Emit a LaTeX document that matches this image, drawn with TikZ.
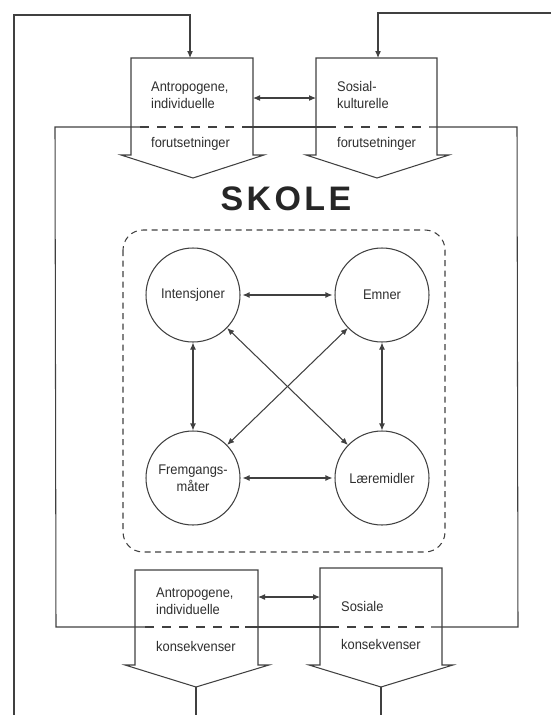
\documentclass[tikz,border=0pt]{standalone}
\usepackage{fontspec}
\setmainfont{Liberation Sans}[FakeStretch=0.92]
\newfontfamily\skolefont{Liberation Sans}[LetterSpace=10]
\usetikzlibrary{arrows.meta}
\begin{document}
\begin{tikzpicture}[x=1pt,y=-1pt,
  ln/.style={draw=black!75, line width=1.05pt},
  tip/.style={ln, -{Latex[length=7pt,width=6pt]}},
  dtip/.style={ln, {Latex[length=7pt,width=6pt]}-{Latex[length=7pt,width=6pt]}},
  lbl/.style={anchor=base west, inner sep=0pt, font=\fontsize{14}{16}\selectfont, text=black!82},
  circ/.style={circle, ln, minimum size=94pt, inner sep=0pt, align=center,
    font=\fontsize{14}{17}\selectfont, text=black!82},
  dsh/.style={ln, dash pattern=on 9pt off 8pt},
  frame/.style={draw=black!75, line width=1.05pt, dash pattern=on 6pt off 4.5pt, rounded corners=20pt}
]
\useasboundingbox (0,0) rectangle (551,715);

% ---- pentagon boxes ----
\draw[ln] (131,58) -- (253,58) -- (253,155) -- (264,155) -- (193,178) -- (121,155) -- (131,155) -- cycle;
\draw[ln] (316,58) -- (437,58) -- (437,155) -- (449,155) -- (377,178) -- (306,155) -- (316,155) -- cycle;
\draw[ln] (135,570) -- (258,570) -- (258,665) -- (269,665) -- (196,687) -- (125,665) -- (135,665) -- cycle;
\draw[ln] (320,568) -- (442,568) -- (442,665) -- (453,665) -- (381,687) -- (309,665) -- (320,665) -- cycle;

% named points of the boxes
\coordinate (tlTop) at (190,58);
\coordinate (trTop) at (378,58);
\coordinate (tlR) at (253,98);
\coordinate (trL) at (316,98);
\coordinate (blR) at (258,597);
\coordinate (brL) at (320,597);
\coordinate (blTip) at (196,687);
\coordinate (brTip) at (381,687);
\coordinate (blOut) at (196,715);
\coordinate (brOut) at (381,715);

% ---- outer feedback lines ----
\coordinate (oL1) at (14,715);
\coordinate (oL2) at (14,15);
\coordinate (oL3) at (190,15);
\coordinate (oR1) at (551,13);
\coordinate (oR2) at (378,13);
\draw[tip] (oL1) -- (oL2) -- (oL3) -- (tlTop);
\draw[tip] (oR1) -- (oR2) -- (trTop);
\draw[ln] (blTip) -- (blOut);
\draw[ln] (brTip) -- (brOut);

% ---- inner loop ----
\coordinate (iTL) at (55,127);
\coordinate (iTR) at (517,127);
\coordinate (iBL) at (56,627);
\coordinate (iBR) at (518,627);
\draw[ln] (140,127) -- (iTL) -- (iBL) -- (145,627);
\draw[ln] (429,127) -- (iTR) -- (iBR) -- (431,627);
\draw[ln] (242,127) -- (327,127);
\draw[ln] (245,627) -- (330,627);
\draw[dsh] (140,127) -- (242,127);
\draw[dsh] (327,127) -- (429,127);
\draw[dsh] (145,627) -- (245,627);
\draw[dsh] (330,627) -- (431,627);

% ---- box texts ----
\node[lbl] (t1) at (151,91) {Antropogene,};
\node[lbl] (t2) at (151,108) {individuelle};
\node[lbl] (t3) at (151,147) {forutsetninger};
\node[lbl] (t4) at (337,91) {Sosial-};
\node[lbl] (t5) at (337,108) {kulturelle};
\node[lbl] (t6) at (337,147) {forutsetninger};
\node[lbl] (b1) at (156,597) {Antropogene,};
\node[lbl] (b2) at (156,614) {individuelle};
\node[lbl] (b3) at (156,651) {konsekvenser};
\node[lbl] (b4) at (341,611) {Sosiale};
\node[lbl] (b5) at (341,649) {konsekvenser};

\draw[dtip] (tlR) -- (trL);
\draw[dtip] (blR) -- (brL);

% ---- SKOLE ----
\node[inner sep=0pt, text=black!85, font=\skolefont\fontsize{34}{34}\selectfont\bfseries] (skole) at (286,199) {SKOLE};

% ---- dashed frame ----
\draw[frame] (123,230) rectangle (445,552);

% ---- circles ----
\node[circ] (int) at (193,295) {Intensjoner};
\node[circ] (emn) at (382,295) {Emner};
\node[circ] (frm) at (193,478) {Fremgangs-\\måter};
\node[circ] (lae) at (382,478) {Læremidler};

\draw[dtip, shorten <=2pt, shorten >=2pt] (int) -- (emn);
\draw[dtip, shorten <=2pt, shorten >=2pt] (frm) -- (lae);
\draw[dtip] (int) -- (frm);
\draw[dtip] (emn) -- (lae);
\draw[dtip] (int) -- (lae);
\draw[dtip] (emn) -- (frm);
\end{tikzpicture}
\end{document}
